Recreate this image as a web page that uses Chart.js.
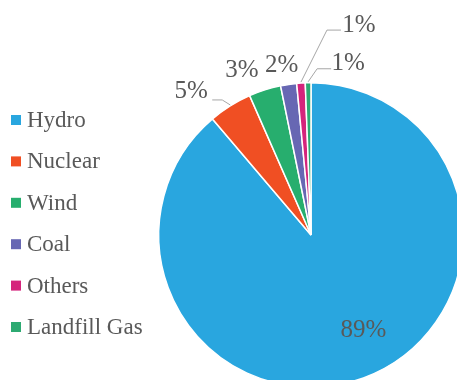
<!DOCTYPE html>
<html>
<head>
<meta charset="utf-8">
<script src="https://cdn.jsdelivr.net/npm/chart.js@4.4.1/dist/chart.umd.min.js"></script>
<style>
html, body { margin: 0; padding: 0; overflow: hidden; background: #fff; width: 457px; height: 380px; }
#wrap { position: absolute; left: 0; top: 0; width: 480px; height: 400px; }
.probe { position: absolute; left: -999px; font-family: "Liberation Serif"; }
</style>
</head>
<body>
<span class="probe">Hydro 1%</span>
<div id="wrap"><canvas id="mixChart" width="480" height="400"></canvas></div>
<script>
// data
const sources = ["Hydro", "Nuclear", "Wind", "Coal", "Others", "Landfill Gas"];
const shares = [88.8, 4.6, 3.4, 1.7, 0.9, 0.6];
const shareLabels = ["89%", "5%", "3%", "2%", "1%", "1%"];

const colors = ["#29A6DF", "#F04F23", "#27AE6E", "#6767B3", "#D5247C", "#2DAA72"];
const serif = "'Liberation Serif', 'Times New Roman', Times, serif";

// label placement relative to the slice's outer edge (mid angle)
const labelPlace = [
    { dx: 0, dy: -47 },
    { dx: -39, dy: -15, leader: [[-8, -6], [-18, -6]] },
    { dx: -23, dy: -19 },
    { dx: -7, dy: -19 },
    { dx: 58, dy: -58, leader: [[26, -53], [40, -53]] },
    { dx: 40, dy: -19, leader: [[9, -14], [23, -14]] }
];

const pieLabels = {
    id: "pieLabels",
    afterDatasetsDraw(chart) {
        const ctx = chart.ctx;
        const arcs = chart.getDatasetMeta(0).data;
        ctx.save();
        ctx.font = "25px " + serif;
        ctx.fillStyle = "#595959";
        ctx.textAlign = "center";
        ctx.textBaseline = "middle";
        arcs.forEach((arc, i) => {
            const p = arc.getProps(["x", "y", "startAngle", "endAngle", "outerRadius"], true);
            const mid = (p.startAngle + p.endAngle) / 2;
            const ax = p.x + Math.cos(mid) * p.outerRadius;
            const ay = p.y + Math.sin(mid) * p.outerRadius;
            const pl = labelPlace[i];
            if (pl.leader) {
                ctx.strokeStyle = "#A6A6A6";
                ctx.lineWidth = 1;
                ctx.beginPath();
                ctx.moveTo(ax, ay - 1);
                pl.leader.forEach(pt => ctx.lineTo(ax + pt[0], ay + pt[1]));
                ctx.stroke();
            }
            ctx.fillText(shareLabels[i], ax + pl.dx, ay + pl.dy);
        });
        ctx.restore();
    }
};

const sideLegend = {
    id: "sideLegend",
    afterDraw(chart) {
        const ctx = chart.ctx;
        ctx.save();
        ctx.font = "23px " + serif;
        ctx.textBaseline = "middle";
        ctx.textAlign = "left";
        sources.forEach((name, i) => {
            const y = 120 + i * 41.4;
            ctx.fillStyle = colors[i];
            ctx.fillRect(11, y - 5, 10, 10);
            ctx.fillStyle = "#595959";
            ctx.fillText(name, 27, y + 1);
        });
        ctx.restore();
    }
};

new Chart(document.getElementById("mixChart"), {
    type: "pie",
    data: {
        labels: sources,
        datasets: [{
            data: shares,
            backgroundColor: colors,
            borderColor: "#ffffff",
            borderWidth: 1.5
        }]
    },
    options: {
        responsive: false,
        animation: false,
        layout: {
            padding: { left: 158, top: 82, right: 16, bottom: 12 }
        },
        plugins: {
            legend: { display: false },
            tooltip: { enabled: false }
        }
    },
    plugins: [pieLabels, sideLegend]
});
</script>
</body>
</html>
